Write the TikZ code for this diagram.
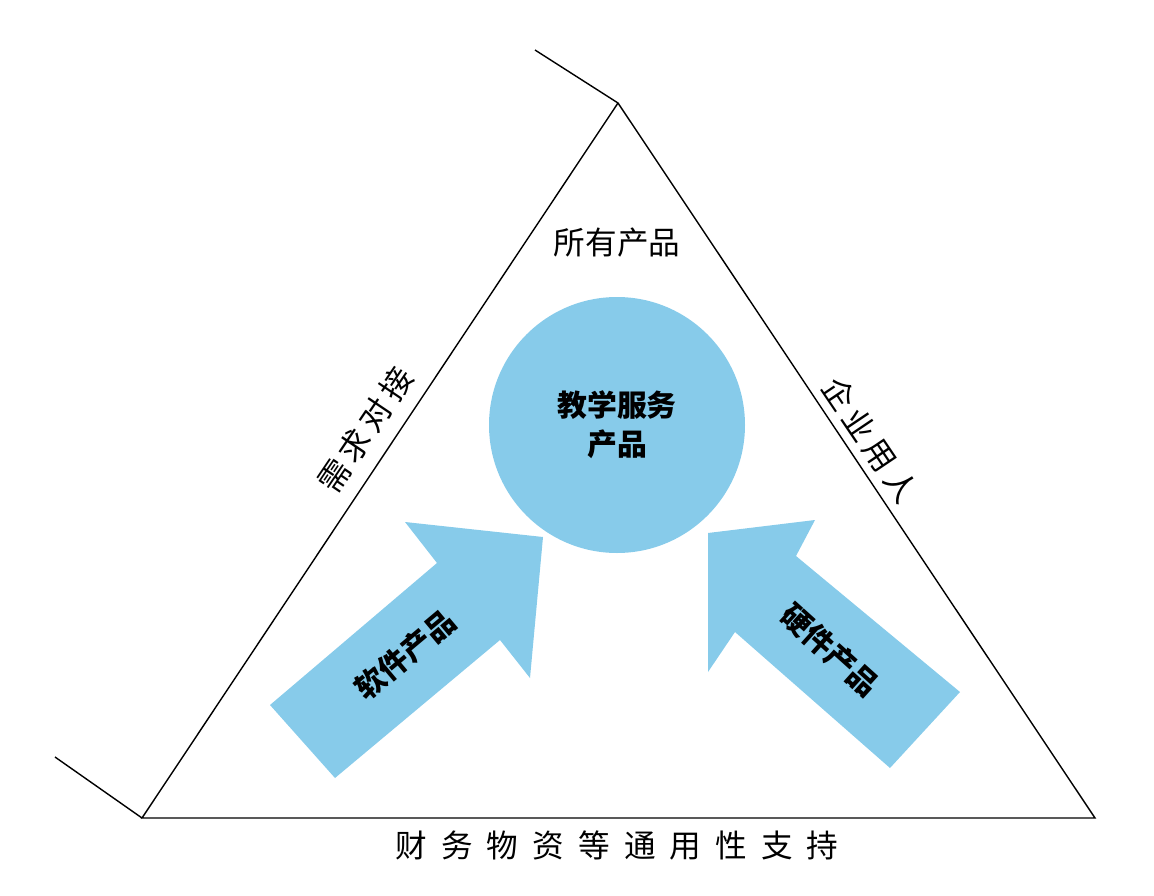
\documentclass[tikz,border=0pt]{standalone}
\usepackage{fontspec}
\newfontfamily\cjk{Noto Sans CJK SC}
\usetikzlibrary{positioning}
\definecolor{skyfill}{HTML}{87CBEA}
\tikzset{
  lbl/.style={font=\cjk\fontsize{18}{20}\selectfont},
  bold/.style={font=\cjk\bfseries\fontsize{17}{22}\selectfont, align=center},
  bigarrow/.style={fill=skyfill, draw=none}
}
\begin{document}
\begin{tikzpicture}[x=0.02cm,y=-0.02cm]
\useasboundingbox (0,0) rectangle (1154,896);
\coordinate (top) at (618,103);
\coordinate (bl) at (142,818);
\coordinate (br) at (1095,818);
\coordinate (tt) at (535,50);
\coordinate (lt) at (55,757);
\draw[thick] (tt) -- (top) -- (br) -- (bl) -- (top);
\draw[thick] (lt) -- (bl);

\node[circle, fill=skyfill, minimum size=256*0.02cm] (core) at (617,425) {};
\node[bold] at (core) {教学服务\\产品};

\fill[bigarrow] (270,705) -- (437,563) -- (405,522) -- (543,537) -- (530,678) -- (500,640) -- (335,778) -- cycle;
\fill[bigarrow] (960,692) -- (796,556) -- (815,520) -- (708,533) -- (708,672) -- (735,632) -- (890,768) -- cycle;

\node[lbl] (all) at (617,243) {所有产品};
\node[lbl, rotate=56] (demand) at (365,430) {需\,求\,对\,接};
\node[lbl, rotate=-56] (job) at (870,440) {企\,业\,用\,人};
\node[bold, rotate=40] (soft) at (405,655) {软件产品};
\node[bold, rotate=-42] (hard) at (830,650) {硬件产品};
\node[lbl] (base) at (617,845) {财\;\,务\;\,物\;\,资\;\,等\;\,通\;\,用\;\,性\;\,支\;\,持};
\end{tikzpicture}
\end{document}
